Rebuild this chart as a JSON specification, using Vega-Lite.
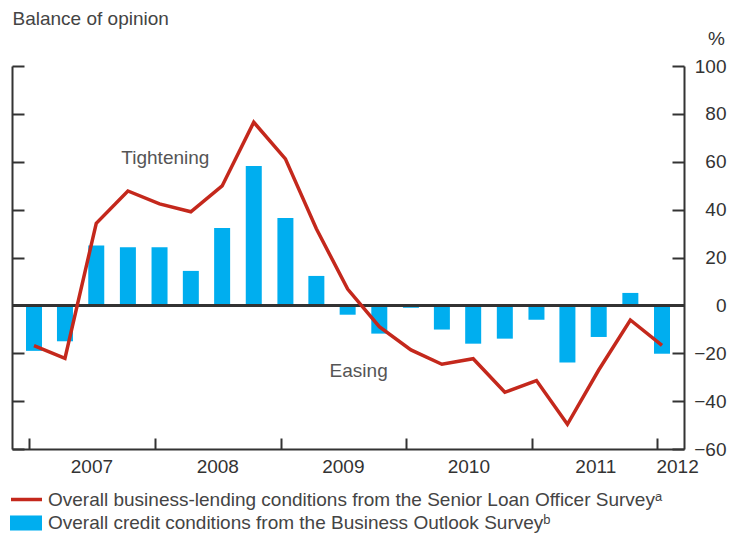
{
  "$schema": "https://vega.github.io/schema/vega-lite/v6.json",
  "width": 672,
  "height": 383,
  "autosize": {"type": "none"},
  "padding": {"left": 12, "top": 66, "right": 50, "bottom": 84},
  "background": "white",
  "config": {
    "view": {"stroke": null},
    "font": "Liberation Sans",
    "axis": {"grid": false}
  },
  "data": {
    "values": [
      {"date": "2007-01-15", "bos": -19, "slos": -16.8},
      {"date": "2007-04-15", "bos": -15, "slos": -22.1},
      {"date": "2007-07-15", "bos": 25, "slos": 34.3},
      {"date": "2007-10-15", "bos": 24.3, "slos": 47.8},
      {"date": "2008-01-15", "bos": 24.3, "slos": 42.4},
      {"date": "2008-04-15", "bos": 14.4, "slos": 39.1},
      {"date": "2008-07-15", "bos": 32.3, "slos": 49.9},
      {"date": "2008-10-15", "bos": 58.2, "slos": 76.5},
      {"date": "2009-01-15", "bos": 36.5, "slos": 61.2},
      {"date": "2009-04-15", "bos": 12.3, "slos": 32},
      {"date": "2009-07-15", "bos": -3.9, "slos": 6.8},
      {"date": "2009-10-15", "bos": -11.8, "slos": -8.9},
      {"date": "2010-01-15", "bos": -1, "slos": -18.6},
      {"date": "2010-04-15", "bos": -10.1, "slos": -24.6},
      {"date": "2010-07-15", "bos": -16, "slos": -22.3},
      {"date": "2010-10-15", "bos": -13.9, "slos": -36.3},
      {"date": "2011-01-15", "bos": -6, "slos": -31.4},
      {"date": "2011-04-15", "bos": -23.9, "slos": -49.7},
      {"date": "2011-07-15", "bos": -13.2, "slos": -27},
      {"date": "2011-10-15", "bos": 5.2, "slos": -6.1},
      {"date": "2012-01-15", "bos": -20.2, "slos": -16.7}
    ]
  },
  "layer": [
    {
      "mark": {"type": "bar", "width": 16, "color": "#00AEEF"},
      "encoding": {
        "x": {
          "field": "date",
          "type": "temporal",
          "scale": {
            "type": "utc",
            "padding": 0,
            "domain": [
              {"year": 2006, "month": 11, "date": 12, "utc": true},
              {"year": 2012, "month": 3, "date": 19, "utc": true}
            ]
          },
          "axis": {
            "orient": "bottom",
            "values": [
              {"year": 2007, "month": 1, "date": 1, "utc": true},
              {"year": 2008, "month": 1, "date": 1, "utc": true},
              {"year": 2009, "month": 1, "date": 1, "utc": true},
              {"year": 2010, "month": 1, "date": 1, "utc": true},
              {"year": 2011, "month": 1, "date": 1, "utc": true},
              {"year": 2012, "month": 1, "date": 1, "utc": true}
            ],
            "labels": false,
            "tickSize": -11,
            "tickWidth": 2,
            "tickColor": "#333333",
            "domainColor": "#333333",
            "domainWidth": 2,
            "title": null
          }
        },
        "y": {
          "field": "bos",
          "type": "quantitative",
          "scale": {"domain": [-60, 100], "nice": false, "zero": false},
          "axis": {
            "orient": "left",
            "values": [-60, -40, -20, 0, 20, 40, 60, 80, 100],
            "labels": false,
            "tickSize": -12,
            "tickWidth": 2,
            "tickColor": "#333333",
            "domainColor": "#333333",
            "domainWidth": 2,
            "title": "Balance of opinion",
            "titleAngle": 0,
            "titleAlign": "left",
            "titleBaseline": "middle",
            "titleX": 0,
            "titleY": -48,
            "titleFontSize": 19,
            "titleFontWeight": "normal",
            "titleColor": "#444444"
          }
        },
        "fill": {
          "datum": "Overall credit conditions from the Business Outlook Surveyᵇ",
          "scale": {"range": ["#00AEEF"]},
          "legend": {
            "orient": "none",
            "legendX": -2,
            "legendY": 441,
            "title": null,
            "padding": 0,
            "symbolType": "M-1,-0.47H1V0.47H-1Z",
            "symbolSize": 1024,
            "symbolStrokeWidth": 0,
            "labelFontSize": 19,
            "labelColor": "#444444",
            "labelOffset": 6,
            "labelLimit": 720
          }
        }
      }
    },
    {
      "mark": {"type": "rule", "color": "#333333", "strokeWidth": 2},
      "encoding": {
        "y": {"datum": 0, "type": "quantitative", "axis": null}
      }
    },
    {
      "mark": {"type": "line", "color": "#C4281C", "strokeWidth": 3.5},
      "encoding": {
        "x": {
          "field": "date",
          "type": "temporal",
          "axis": {
            "orient": "bottom",
            "values": [
              {"year": 2007, "month": 7, "date": 1, "utc": true},
              {"year": 2008, "month": 7, "date": 1, "utc": true},
              {"year": 2009, "month": 7, "date": 1, "utc": true},
              {"year": 2010, "month": 7, "date": 1, "utc": true},
              {"year": 2011, "month": 7, "date": 5, "utc": true},
              {"year": 2012, "month": 2, "date": 28, "utc": true}
            ],
            "labelExpr": "utcFormat(datum.value, '%Y')",
            "ticks": false,
            "domain": false,
            "labelFontSize": 19,
            "labelColor": "#333333",
            "labelPadding": 8,
            "title": null
          }
        },
        "y": {
          "field": "slos",
          "type": "quantitative",
          "axis": {
            "orient": "right",
            "values": [-60, -40, -20, 0, 20, 40, 60, 80, 100],
            "tickSize": -12,
            "tickWidth": 2,
            "tickColor": "#333333",
            "domainColor": "#333333",
            "domainWidth": 2,
            "labelAlign": "right",
            "labelPadding": 54,
            "labelFontSize": 19,
            "labelColor": "#333333",
            "title": "%",
            "titleAngle": 0,
            "titleAlign": "center",
            "titleBaseline": "middle",
            "titleX": 32,
            "titleY": -28,
            "titleFontSize": 19,
            "titleFontWeight": "normal",
            "titleColor": "#333333"
          }
        },
        "stroke": {
          "datum": "Overall business-lending conditions from the Senior Loan Officer Surveyᵃ",
          "scale": {"range": ["#C4281C"]},
          "legend": {
            "orient": "none",
            "legendX": -3,
            "legendY": 416,
            "title": null,
            "padding": 0,
            "symbolType": "stroke",
            "symbolSize": 961,
            "symbolStrokeWidth": 3.5,
            "labelFontSize": 19,
            "labelColor": "#444444",
            "labelOffset": 4,
            "labelLimit": 720
          }
        }
      }
    },
    {
      "data": {
        "values": [
          {"date": "2008-02-01", "y": 61.5, "label": "Tightening"},
          {"date": "2009-08-16", "y": -27.5, "label": "Easing"}
        ]
      },
      "mark": {"type": "text", "fontSize": 19, "color": "#555555", "baseline": "middle", "align": "center"},
      "encoding": {
        "x": {"field": "date", "type": "temporal", "axis": null},
        "y": {"field": "y", "type": "quantitative", "axis": null},
        "text": {"field": "label"}
      }
    }
  ],
  "resolve": {"axis": {"x": "independent", "y": "independent"}}
}
